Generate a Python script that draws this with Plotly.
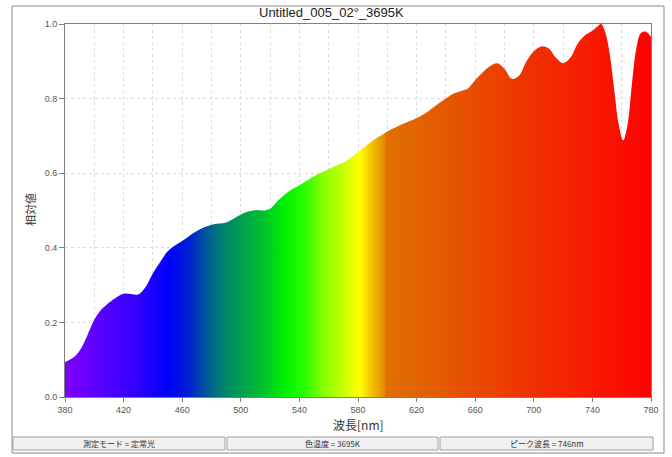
import plotly.graph_objects as go

wavelength = [380, 385, 390, 395, 400, 405, 410, 415, 420, 425, 430, 435, 440, 445, 450,
              455, 460, 465, 470, 475, 480, 485, 490, 495, 500, 505, 510, 515, 520, 525,
              530, 535, 540, 545, 550, 555, 560, 565, 570, 575, 580, 585, 590, 595, 600,
              605, 610, 615, 620, 625, 630, 635, 640, 645, 650, 655, 660, 665, 670, 675,
              680, 685, 690, 695, 700, 705, 710, 715, 720, 725, 730, 735, 740, 743, 746,
              749, 752, 755, 758, 761, 764, 767, 770, 773, 776, 778, 780]
relative = [0.094, 0.104, 0.124, 0.163, 0.207, 0.235, 0.253, 0.267, 0.277, 0.276, 0.275, 0.295, 0.332, 0.362, 0.390,
            0.406, 0.418, 0.432, 0.445, 0.455, 0.462, 0.465, 0.468, 0.478, 0.489, 0.497, 0.501, 0.500, 0.505, 0.525,
            0.543, 0.557, 0.568, 0.580, 0.592, 0.602, 0.611, 0.620, 0.628, 0.641, 0.657, 0.672, 0.688, 0.700, 0.712,
            0.722, 0.731, 0.739, 0.748, 0.758, 0.772, 0.787, 0.800, 0.813, 0.820, 0.827, 0.850, 0.870, 0.887, 0.895,
            0.880, 0.853, 0.862, 0.900, 0.927, 0.940, 0.935, 0.910, 0.895, 0.910, 0.948, 0.970, 0.982, 0.992, 1.000,
            0.975, 0.915, 0.820, 0.730, 0.688, 0.730, 0.840, 0.935, 0.975, 0.980, 0.975, 0.965]

color_nm = [380, 400, 430, 450, 465, 475, 485, 500, 515, 530, 545, 555, 570, 581, 590, 598, 599, 640, 700, 740, 780]
color_hex = ["#8000ff", "#6000ff", "#3000ff", "#0000ff", "#0020d0", "#0050a0", "#007878", "#00a050",
             "#00c030", "#00f000", "#30ff00", "#80ff00", "#c8ff00", "#ffff00", "#f0c000", "#e68a00",
             "#e07000", "#e45800", "#f03000", "#f81a00", "#ff0000"]

x_ticks = [380, 420, 460, 500, 540, 580, 620, 660, 700, 740, 780]
y_ticks = [0.0, 0.2, 0.4, 0.6, 0.8, 1.0]

title_text = "Untitled_005_02°_3695K"
x_title = "波長[nm]"
y_title = "相対値"
status_texts = ["測定モード = 定常光", "色温度 = 3695K", "ピーク波長 = 746nm"]

lo, hi = 380, 780
colorscale = [[(n - lo) / (hi - lo), c] for n, c in zip(color_nm, color_hex)]

fig = go.Figure()
fig.add_trace(go.Scatter(
    x=wavelength, y=relative, mode="lines",
    line=dict(width=0, shape="spline", smoothing=1, color="rgba(0,0,0,0)"),
    fill="tozeroy",
    fillgradient=dict(type="horizontal", colorscale=colorscale, start=lo, stop=hi),
    hoverinfo="skip", showlegend=False,
))

# pixel geometry helpers (plot area: x 65..651, y 24..397)
L, R, T, B = 65, 651, 24, 397
def px(x):
    return (x - L) / (R - L)
def py(y):
    return (B - y) / (B - T)

shapes = [
    dict(type="rect", xref="paper", yref="paper", x0=px(12), x1=px(664), y0=py(453), y1=py(6),
         line=dict(color="#8a8a8a", width=1), fillcolor="rgba(0,0,0,0)", layer="below"),
]
boxes = [(13, 225), (227, 438), (440, 653)]
annotations = []
for (a, b), t in zip(boxes, status_texts):
    shapes.append(dict(type="rect", xref="paper", yref="paper", x0=px(a), x1=px(b), y0=py(450), y1=py(437),
                       line=dict(color="#a0a0a0", width=1), fillcolor="#f0f0f0", layer="below"))
    annotations.append(dict(xref="paper", yref="paper", x=px((a + b) / 2), y=py(443.5), text=t,
                            showarrow=False, xanchor="center", yanchor="middle",
                            font=dict(family="Noto Sans CJK JP", size=8, color="#333333")))

annotations.append(dict(xref="paper", yref="paper", x=px(358), y=py(424), text=x_title, showarrow=False,
                        xanchor="center", yanchor="middle",
                        font=dict(family="Noto Sans CJK JP", size=12, color="#333333")))
annotations.append(dict(xref="paper", yref="paper", x=px(30), y=py(210), text=y_title, showarrow=False,
                        textangle=-90, xanchor="center", yanchor="middle",
                        font=dict(family="Noto Sans CJK JP", size=11, color="#333333")))
annotations.append(dict(xref="paper", yref="paper", x=px(331), y=py(13), text=title_text, showarrow=False,
                        xanchor="center", yanchor="middle",
                        font=dict(family="Liberation Sans, Arial", size=13, color="#222222")))

tick_font = dict(family="Liberation Sans Narrow, Liberation Sans, Arial", size=9, color="#555555")

fig.update_layout(
    width=672, height=457,
    margin=dict(l=L, r=672 - R, t=T, b=457 - B),
    paper_bgcolor="white", plot_bgcolor="white",
    shapes=shapes, annotations=annotations,
    xaxis=dict(range=[lo, hi], tickvals=x_ticks, ticktext=[str(v) for v in x_ticks],
               showgrid=True, gridcolor="#dcdcdc", griddash="dot", gridwidth=1,
               minor=dict(dtick=20, tick0=380, showgrid=True, gridcolor="#dcdcdc", griddash="dot"),
               showline=True, mirror=True, linecolor="#808080", linewidth=1,
               ticks="outside", ticklen=4, tickcolor="#808080", tickfont=tick_font, zeroline=False),
    yaxis=dict(range=[0, 1], tickvals=y_ticks, ticktext=[f"{v:.1f}" for v in y_ticks],
               showgrid=True, gridcolor="#dcdcdc", griddash="dot", gridwidth=1,
               showline=True, mirror=True, linecolor="#808080", linewidth=1,
               ticks="outside", ticklen=5, tickcolor="#808080", tickfont=tick_font, zeroline=False),
)

fig.write_html("out.html", config={"displayModeBar": False},
               post_script="document.body.style.margin='0';document.body.style.overflow='hidden';")
